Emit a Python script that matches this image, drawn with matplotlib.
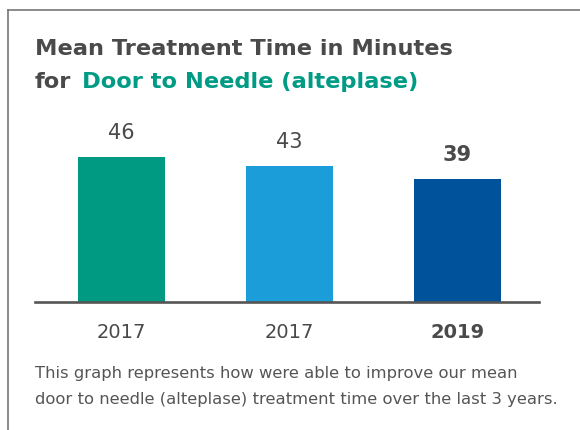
import matplotlib
matplotlib.use('Agg')
import matplotlib.pyplot as plt
from matplotlib.lines import Line2D

years = ['2017', '2017', '2019']
minutes = [46, 43, 39]
bar_colors = ['#009982', '#1a9dd9', '#00539b']

dark = '#4a4a4a'
teal = '#009b84'

plt.rcParams['font.family'] = ['DejaVu Sans']

fig = plt.figure(figsize=(5.8, 4.3), dpi=100)
W, H = 580.0, 430.0

# card border (top and left edge)
fig.add_artist(Line2D([7.5 / W, 1], [1 - 10 / H, 1 - 10 / H], color='#777777', lw=1.2))
fig.add_artist(Line2D([7.5 / W, 7.5 / W], [0, 1 - 10 / H], color='#777777', lw=1.2))

ax = fig.add_axes([35 / W, 128 / H, 504 / W, 202 / H])
x = list(range(len(minutes)))
ax.bar(x, minutes, width=0.52, color=bar_colors, zorder=2)
ax.set_xlim(-0.515, 2.485)
ax.set_ylim(0, 63.9)

for sp in ['top', 'right', 'left']:
  ax.spines[sp].set_visible(False)
ax.spines['bottom'].set_color('#555555')
ax.spines['bottom'].set_linewidth(1.9)
ax.spines['bottom'].set_zorder(3)
ax.set_yticks([])

ax.set_xticks(x, years)
ax.tick_params(axis='x', length=0, pad=15, labelsize=14, labelcolor=dark)
ax.get_xticklabels()[-1].set_fontweight('bold')

# value labels above bars
for i, v in enumerate(minutes):
  ax.annotate(str(v), xy=(i, v), xytext=(0, 17), textcoords='offset points',
              ha='center', va='center', fontsize=15, color=dark,
              fontweight='bold' if i == len(minutes) - 1 else 'normal')

# title, two lines, second line partly coloured
fig.text(35 / W, 1 - 55 / H, 'Mean Treatment Time in Minutes', fontsize=16.2,
         fontweight='bold', color=dark, va='baseline')
t1 = fig.text(35 / W, 1 - 88 / H, 'for', fontsize=16.2, fontweight='bold',
              color=dark, va='baseline')
ax.annotate('Door to Needle (alteplase)', xy=(1, 0), xycoords=t1,
            xytext=(7.5, 0), textcoords='offset points', va='bottom',
            fontsize=16.2, fontweight='bold', color=teal, annotation_clip=False)

# caption
fig.text(35 / W, 1 - 378 / H, 'This graph represents how were able to improve our mean',
         fontsize=11.8, color='#555555', va='baseline')
fig.text(35 / W, 1 - 404 / H, 'door to needle (alteplase) treatment time over the last 3 years.',
         fontsize=11.8, color='#555555', va='baseline')

fig.savefig('out.png', dpi=100)
